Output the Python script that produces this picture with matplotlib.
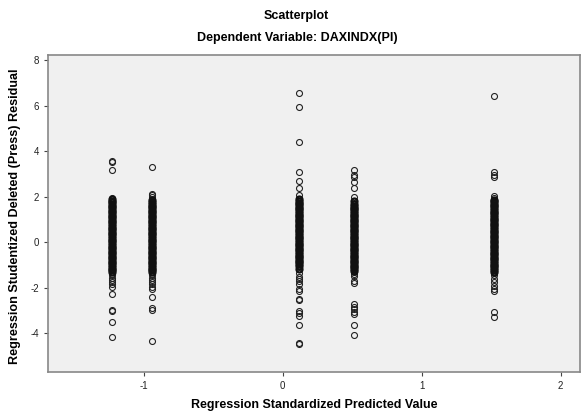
import matplotlib.pyplot as plt

plt.rcParams['font.family'] = ['Liberation Sans', 'DejaVu Sans']
plt.rcParams['axes.unicode_minus'] = False

# predicted value (x) of each column of residuals
col_x = [-1.23, -0.94, 0.12, 0.51, 1.52]

# studentized deleted residuals
col1 = [3.6, 3.55, 3.17, 1.96, 1.9, 1.84, 1.78, 1.7, 1.62, 1.55, 1.48, 1.4, 1.32, 1.25,
        1.18, 1.1, 1.02, 0.95, 0.88, 0.8, 0.72, 0.65, 0.58, 0.5, 0.42, 0.35, 0.28, 0.2,
        0.12, 0.05, -0.02, -0.1, -0.18, -0.25, -0.32, -0.4, -0.48, -0.55, -0.62, -0.7,
        -0.78, -0.85, -0.92, -1.0, -1.08, -1.15, -1.22, -1.3, -1.38, -1.45, -1.55, -1.65,
        -1.75, -1.85, -1.95, -2.25, -2.98, -3.02, -3.52, -4.18]
col2 = [3.3, 2.15, 2.08, 2.0, 1.92, 1.85, 1.78, 1.7, 1.62, 1.55, 1.48, 1.4, 1.32, 1.25,
        1.18, 1.1, 1.02, 0.95, 0.88, 0.8, 0.72, 0.65, 0.58, 0.5, 0.42, 0.35, 0.28, 0.2,
        0.12, 0.05, -0.02, -0.1, -0.18, -0.25, -0.32, -0.4, -0.48, -0.55, -0.62, -0.7,
        -0.78, -0.85, -0.92, -1.0, -1.08, -1.15, -1.22, -1.3, -1.38, -1.45, -1.55, -1.65,
        -1.75, -1.85, -1.95, -2.05, -2.4, -2.88, -2.96, -4.33]
col3 = [6.57, 5.96, 4.43, 3.1, 2.7, 2.41, 2.1, 1.89, 1.82, 1.75, 1.68, 1.6, 1.52, 1.45,
        1.38, 1.3, 1.22, 1.15, 1.08, 1.0, 0.92, 0.85, 0.78, 0.7, 0.62, 0.55, 0.48, 0.4,
        0.32, 0.25, 0.18, 0.1, 0.02, -0.05, -0.12, -0.2, -0.28, -0.35, -0.42, -0.5,
        -0.58, -0.65, -0.72, -0.8, -0.88, -0.95, -1.05, -1.18, -1.33, -1.5, -1.6, -1.7,
        -1.84, -2.06, -2.13, -2.48, -2.52, -3.01, -3.11, -3.23, -3.64, -4.43, -4.46]
col4 = [3.17, 2.98, 2.88, 2.65, 2.4, 1.99, 1.81, 1.67, 1.6, 1.52, 1.45, 1.38, 1.3, 1.22,
        1.15, 1.08, 1.0, 0.92, 0.85, 0.78, 0.7, 0.62, 0.55, 0.48, 0.4, 0.32, 0.25, 0.18,
        0.1, 0.02, -0.05, -0.12, -0.2, -0.28, -0.35, -0.42, -0.5, -0.58, -0.65, -0.72,
        -0.8, -0.88, -0.95, -1.02, -1.1, -1.18, -1.25, -1.32, -1.4, -1.48, -1.7, -1.8,
        -2.72, -2.82, -2.94, -3.06, -3.16, -3.64, -4.05]
col5 = [6.45, 3.08, 2.98, 2.88, 2.03, 1.96, 1.88, 1.8, 1.72, 1.65, 1.58, 1.5, 1.42,
        1.35, 1.28, 1.2, 1.12, 1.05, 0.98, 0.9, 0.82, 0.75, 0.68, 0.6, 0.52, 0.45, 0.38,
        0.3, 0.22, 0.15, 0.08, 0.0, -0.08, -0.15, -0.22, -0.3, -0.38, -0.45, -0.52, -0.6,
        -0.68, -0.75, -0.82, -0.9, -0.98, -1.05, -1.12, -1.2, -1.28, -1.33, -1.45, -1.6,
        -1.75, -1.9, -2.05, -2.13, -3.08, -3.26]
columns = [col1, col2, col3, col4, col5]

fig = plt.figure(figsize=(5.83, 4.12), dpi=100)
ax = fig.add_axes([0.082, 0.097, 0.913, 0.77])
ax.set_facecolor('#f0f0f0')

for x, ys in zip(col_x, columns):
    # core of each column is a solid smear of overlapping circles
    core = [y for y in ys if -1.3 <= y <= 1.9]
    ax.plot([x] * len(ys), ys, linestyle='none', marker='o', markersize=4.3,
            markerfacecolor='none', markeredgecolor='#222222', markeredgewidth=0.8)
    ax.plot([x] * len(core), core, linestyle='none', marker='o', markersize=4.3,
            markerfacecolor='none', markeredgecolor='#111111', markeredgewidth=1.6)

ax.set_xlim(-1.69, 2.14)
ax.set_ylim(-5.7, 8.25)
ax.set_xticks([-1, 0, 1, 2])
ax.set_yticks([-4, -2, 0, 2, 4, 6, 8])
ax.tick_params(labelsize=7, length=3, width=0.8, colors='#444444', labelcolor='#222222')
for s in ax.spines.values():
    s.set_color('#888888')
    s.set_linewidth(1.2)

ax.set_xlabel('Regression Standardized Predicted Value', fontsize=9, fontweight='bold', labelpad=6)
ax.set_ylabel('Regression Studentized Deleted (Press) Residual', fontsize=9.1, fontweight='bold')
ax.yaxis.set_label_coords(-0.051, 0.49)
fig.text(0.508, 0.962, 'Scatterplot', ha='center', va='center', fontsize=9, fontweight='bold')
fig.text(0.51, 0.907, 'Dependent Variable: DAXINDX(PI)', ha='center', va='center', fontsize=9, fontweight='bold')

fig.savefig('out.png', dpi=100)
